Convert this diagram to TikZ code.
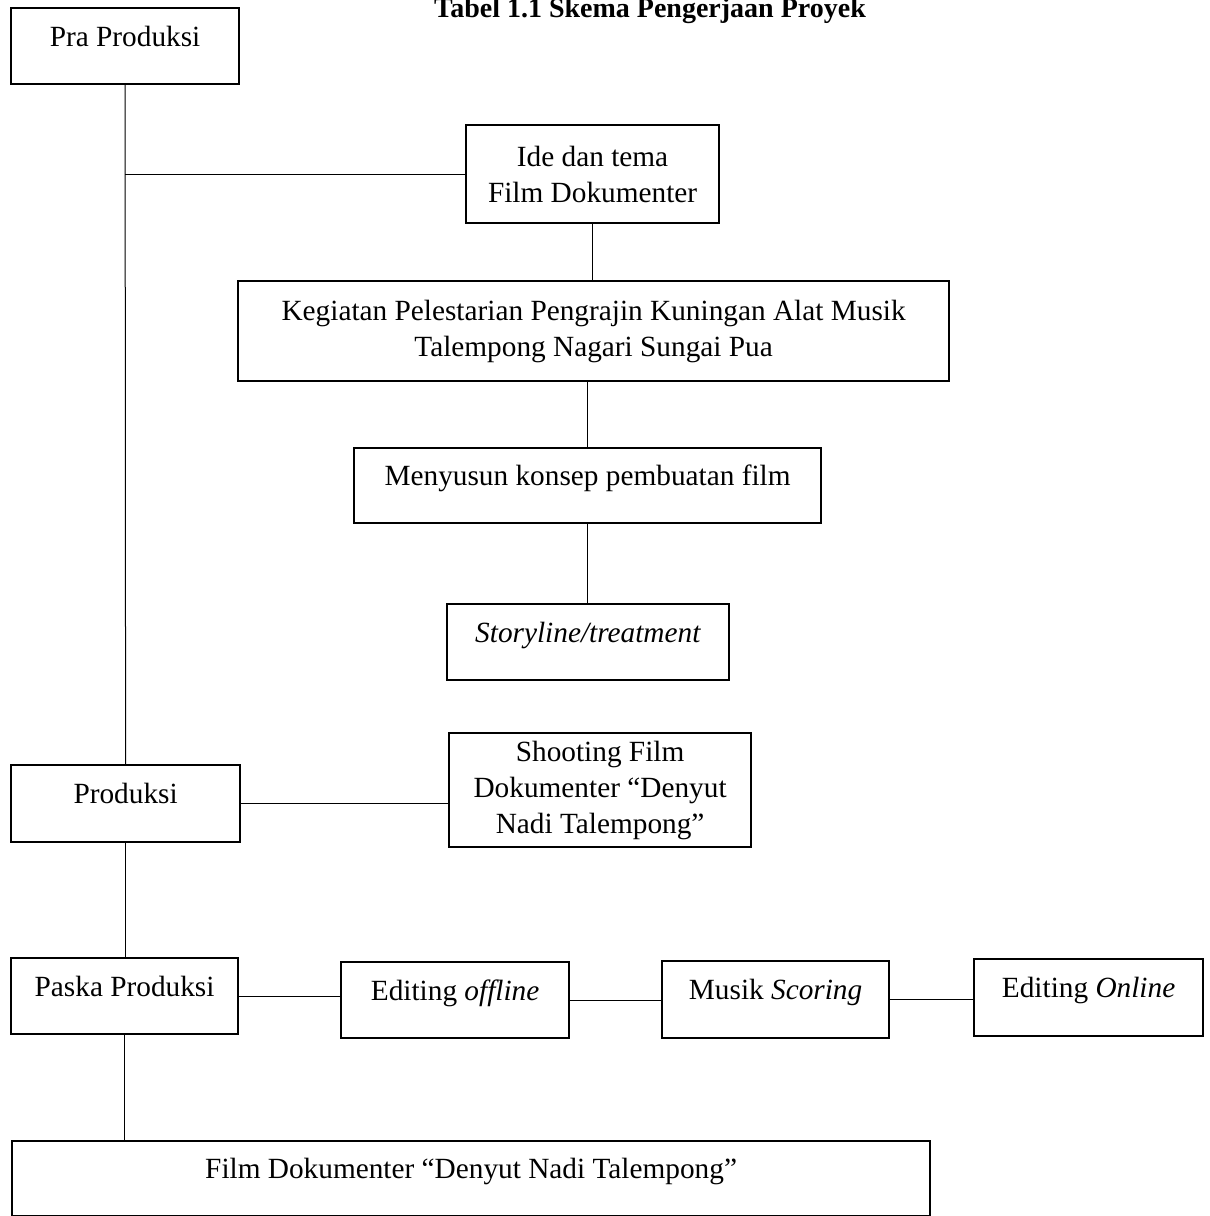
\documentclass[tikz,border=0pt]{standalone}
\usepackage{fontspec}
\setmainfont{Liberation Serif}

\begin{document}
\begin{tikzpicture}[x=1pt, y=-1pt,
    box/.style={draw, line width=2.2pt, inner sep=0pt, anchor=north west,
      align=center, font=\fontsize{29.3}{36}\selectfont},
    oneline/.style={text height=0.7em, text depth=0.7em},
    link/.style={line width=1pt}]
    \useasboundingbox (0,0) rectangle (1210,1216);

    % Title
    \node[anchor=base, font=\fontsize{28}{34}\selectfont\bfseries] (title) at (650,17)
      {Tabel 1.1 Skema Pengerjaan Proyek};

    % Pra produksi
    \node[box, oneline, minimum width=228, minimum height=76] (pra) at (10,7) {Pra Produksi};
    \node[box, minimum width=253, minimum height=98] (ide) at (465,124) {Ide dan tema\\Film Dokumenter};
    \node[box, minimum width=711, minimum height=100] (keg) at (237,280)
      {Kegiatan Pelestarian Pengrajin Kuningan Alat Musik\\Talempong Nagari Sungai Pua};
    \node[box, oneline, minimum width=467, minimum height=75] (meny) at (353,447) {Menyusun konsep pembuatan film};
    \node[box, oneline, minimum width=282, minimum height=76] (story) at (446,603) {\textit{Storyline/treatment}};

    % Produksi
    \node[box, oneline, minimum width=229, minimum height=77] (prod) at (10,764) {Produksi};
    \node[box, minimum width=302, minimum height=114] (shoot) at (448,732)
      {Shooting Film\\Dokumenter “Denyut\\Nadi Talempong”};

    % Paska produksi
    \node[box, oneline, minimum width=227, minimum height=76] (paska) at (10,957) {Paska Produksi};
    \node[box, oneline, minimum width=228, minimum height=76] (offline) at (340,961) {Editing \textit{offline}};
    \node[box, oneline, minimum width=227, minimum height=77] (scoring) at (661,960) {Musik \textit{Scoring}};
    \node[box, oneline, minimum width=229, minimum height=77] (online) at (973,958) {Editing \textit{Online}};
    \node[box, oneline, minimum width=918, minimum height=75] (film) at (11,1140)
      {Film Dokumenter “Denyut Nadi Talempong”};

    % Connectors
    \draw[link] (pra.south) -- (prod.north);
    \draw[link] (pra.south |- ide.west) -- (ide.west);
    \draw[link] (ide.south) -- (ide.south |- keg.north);
    \draw[link] (meny.north |- keg.south) -- (meny.north);
    \draw[link] (meny.south) -- (meny.south |- story.north);
    \draw[link] (prod.east) -- (prod.east -| shoot.west);
    \draw[link] (prod.south) -- (prod.south |- paska.north);
    \draw[link] (paska.east) -- (paska.east -| offline.west);
    \draw[link] (offline.east) -- (offline.east -| scoring.west);
    \draw[link] (scoring.east) -- (scoring.east -| online.west);
    \draw[link] (paska.south) -- (paska.south |- film.north);
\end{tikzpicture}
\end{document}
